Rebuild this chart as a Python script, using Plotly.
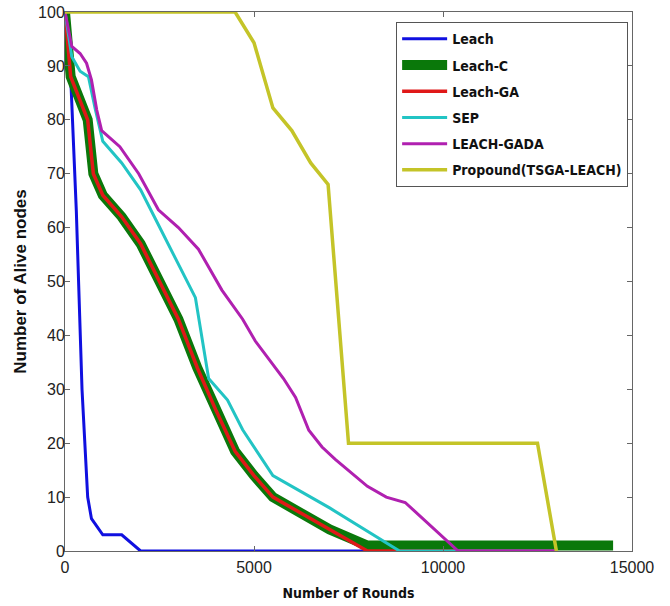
import plotly.graph_objects as go

# ---- data ----
leach_x = [0, 150, 300, 450, 600, 700, 1000, 1500, 2000, 13000]
leach_y = [100, 88, 63, 30, 10, 6, 3, 3, 0, 0]

leachc_x = [0, 150, 600, 750, 1000, 1500, 2000, 2500, 3000, 3500, 4000, 4500, 5000, 5500, 7000, 8000, 14500]
leachc_y = [100, 88, 80, 70, 66, 62, 57, 50, 43, 34, 26, 18.5, 14, 10, 4, 1, 1]

leachga_x = [0, 150, 600, 750, 1000, 1500, 2000, 2500, 3000, 3500, 4000, 4500, 5000, 5500, 7000, 8000, 13000]
leachga_y = [100, 88, 80, 70, 66, 62, 57, 50, 43, 34, 26, 18.5, 14, 10, 4, 0, 0]

sep_x = [0, 180, 400, 620, 800, 1000, 1500, 2000, 2400, 2800, 3450, 3800, 4300, 4700, 5500, 7000, 8850, 13000]
sep_y = [100, 91.7, 89, 88, 82, 76, 72, 67, 61.5, 56, 47, 32, 28, 22.5, 14, 8, 0, 0]

gada_x = [0, 180, 400, 570, 700, 840, 970, 1450, 1950, 2470, 3000, 3530, 4150, 4700, 5030, 5780, 6100, 6450, 6800, 7150, 8000, 8500, 9000, 10400, 13000]
gada_y = [100, 93.6, 92.3, 90.5, 87.4, 81.8, 78, 75, 70, 63.3, 60, 56, 48.4, 43, 39, 32, 28.5, 22.4, 19.3, 17, 12, 10, 9, 0, 0]

prop_x = [0, 4500, 5000, 5500, 6000, 6500, 6960, 7500, 12500, 13000]
prop_y = [100, 100, 94.3, 82.2, 78, 72, 68, 20, 20, 0]

x_tickvals = [0, 5000, 10000, 15000]
x_ticktext = ["0", "5000", "10000", "15000"]
y_tickvals = [0, 10, 20, 30, 40, 50, 60, 70, 80, 90, 100]

series = [
    ("Leach", leach_x, leach_y, "#1010e0", 3),
    ("Leach-C", leachc_x, leachc_y, "#0a780a", 10),
    ("Leach-GA", leachga_x, leachga_y, "#e01818", 3.5),
    ("SEP", sep_x, sep_y, "#22c4c4", 3),
    ("LEACH-GADA", gada_x, gada_y, "#b020b0", 3),
    ("Propound(TSGA-LEACH)", prop_x, prop_y, "#c4c428", 3.5),
]

fig = go.Figure()
for name, xs, ys, col, w in series:
    fig.add_trace(go.Scatter(x=xs, y=ys, mode="lines", name=name, legendgroup=name,
                             line=dict(color=col, width=w)))

narrow = "DejaVu Sans Condensed, Liberation Sans Narrow, sans-serif"
arial = "Liberation Sans, Arial, sans-serif"

axis_common = dict(
    showline=True, linecolor="#666666", linewidth=1, mirror="ticks",
    ticks="inside", ticklen=5, tickcolor="#666666",
    showgrid=False, zeroline=False, automargin=False,
    tickfont=dict(family=arial, size=16, color="#222222"),
)

fig.update_xaxes(range=[0, 15000], tickvals=x_tickvals, ticktext=x_ticktext,
                 ticklabelstandoff=2,
                 title=dict(text="Number of Rounds", standoff=12,
                            font=dict(family=narrow, size=14, color="#111111", weight="bold")),
                 **axis_common)
fig.update_yaxes(range=[0, 100], tickvals=y_tickvals, ticklabelstandoff=-4,
                 title=dict(text="Number of Alive nodes", standoff=7,
                            font=dict(family=arial, size=17, color="#111111", weight="bold")),
                 **axis_common)

fig.update_layout(
    width=670, height=606,
    margin=dict(l=65, r=38, t=12, b=55, pad=0, autoexpand=False),
    plot_bgcolor="white", paper_bgcolor="white",
    legend=dict(x=0.584, y=0.981, xanchor="left", yanchor="top",
                bgcolor="white", bordercolor="#555555", borderwidth=1,
                font=dict(family=narrow, size=14, color="#111111", weight="bold"),
                itemwidth=45, tracegroupgap=5),
)

# remove the browser's default 8px body margin so the figure fills the window
fig.write_html("out.html", config={"displayModeBar": False},
               post_script="document.body.style.margin='0';")
